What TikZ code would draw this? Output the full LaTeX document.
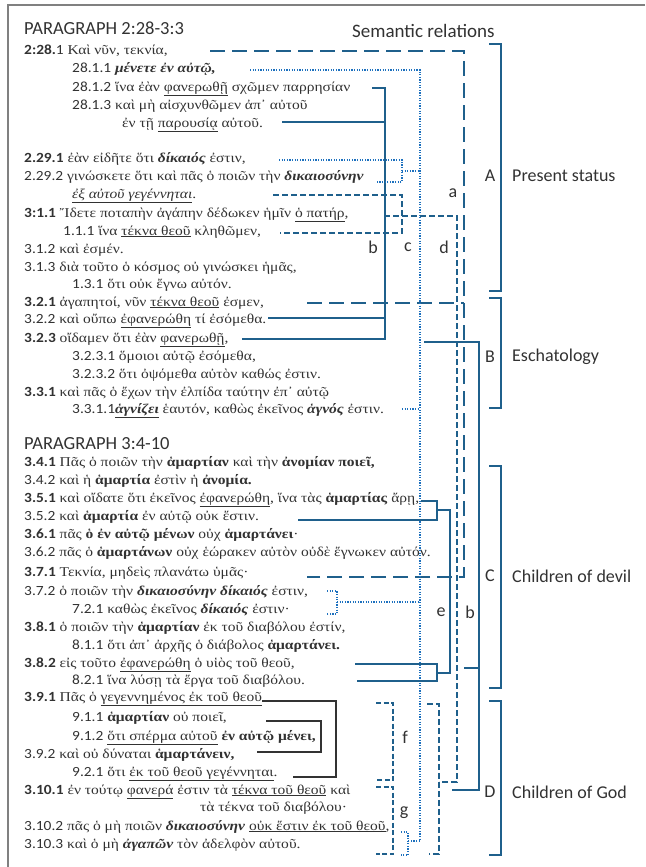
\documentclass[tikz,border=0pt]{standalone}
\usepackage{fontspec}
\setmainfont{Liberation Serif}[FakeStretch=1.15]
\newfontfamily\numfont{Carlito}[FakeStretch=1.1]
\newfontfamily\headfont{Carlito}
\usetikzlibrary{positioning}
\definecolor{relblue}{RGB}{31,96,140}
\definecolor{dotblue}{RGB}{28,112,190}
\definecolor{txtgray}{RGB}{50,50,50}
\newcommand{\nb}[1]{{\numfont\fontsize{14}{16}\selectfont\bfseries #1}}
\newcommand{\nr}[1]{{\numfont\fontsize{14}{16}\selectfont #1}}
\newcommand{\uln}[1]{\underline{#1}}
\newcommand{\emb}[1]{\textbf{\textit{#1}}}
\tikzset{
  verse/.style={anchor=base west,inner sep=0pt,font=\fontsize{13.5}{15}\selectfont,text=txtgray},
  head/.style={anchor=west,inner sep=0pt,font=\headfont\fontsize{18.5}{21}\selectfont,text=txtgray},
  relname/.style={inner sep=0pt,font=\headfont\fontsize{18}{20}\selectfont,text=txtgray},
  theme/.style={anchor=west,inner sep=0pt,font=\headfont\fontsize{18}{20}\selectfont,text=txtgray},
  solidrel/.style={draw=relblue,line width=1.6pt},
  longdash/.style={draw=relblue,line width=1.6pt,dash pattern=on 15pt off 7pt},
  middash/.style={draw=relblue,line width=1.6pt,dash pattern=on 6pt off 3pt},
  shortdash/.style={draw=relblue,line width=1.6pt,dash pattern=on 5pt off 2.5pt},
  dotrel/.style={draw=dotblue,line width=1.4pt,dash pattern=on 1.2pt off 1.4pt},
  boxline/.style={draw=black!80,line width=1.6pt},
  sectbr/.style={draw=relblue,line width=1.8pt},
  pageframe/.style={draw=black!50,line width=1.5pt},
}

\begin{document}
\begin{tikzpicture}[x=1pt,y=-1pt]
  \useasboundingbox (0,0) rectangle (645,867);
  \draw[pageframe] (8,867) -- (8,5) -- (645,5);

  % paragraph 2:28-3:3
  \node[head] (h1) at (24,28) {PARAGRAPH 2:28-3:3};
  \node[head,font=\headfont\fontsize{19}{21}\selectfont] (sem) at (352,31) {Semantic relations};
  \node[verse] (v01) at (24,55) {\nb{2:28.}\nr{1} Καὶ νῦν, τεκνία,};
  \node[verse] (v02) at (72,73) {\nr{28.1.1} \emb{μένετε ἐν αὐτῷ,}};
  \node[verse] (v03) at (72,91) {\nr{28.1.2} ἵνα ἐὰν \uln{φανερωθῇ} σχῶμεν παρρησίαν};
  \node[verse] (v04) at (72,109) {\nr{28.1.3} καὶ μὴ αἰσχυνθῶμεν ἀπ᾽ αὐτοῦ};
  \node[verse] (v05) at (122,127) {ἐν τῇ \uln{παρουσίᾳ} αὐτοῦ.};
  \node[verse] (v06) at (24,162) {\nb{2.29.1} ἐὰν εἰδῆτε ὅτι \emb{δίκαιός} ἐστιν,};
  \node[verse] (v07) at (24,180) {\nr{2.29.2} γινώσκετε ὅτι καὶ πᾶς ὁ ποιῶν τὴν \emb{δικαιοσύνην}};
  \node[verse] (v08) at (72,198) {\uln{\textit{ἐξ αὐτοῦ γεγέννηται}}.};
  \node[verse] (v09) at (24,217) {\nb{3:1.1} Ἴδετε ποταπὴν ἀγάπην δέδωκεν ἡμῖν \uln{ὁ πατήρ},};
  \node[verse] (v10) at (63,235) {\nr{1.1.1} ἵνα \uln{τέκνα θεοῦ} κληθῶμεν,};
  \node[verse] (v11) at (24,253) {\nr{3.1.2} καὶ ἐσμέν.};
  \node[verse] (v12) at (24,271) {\nr{3.1.3} διὰ τοῦτο ὁ κόσμος οὐ γινώσκει ἡμᾶς,};
  \node[verse] (v13) at (72,288) {\nr{1.3.1} ὅτι οὐκ ἔγνω αὐτόν.};
  \node[verse] (v14) at (24,306) {\nb{3.2.1} ἀγαπητοί, νῦν \uln{τέκνα θεοῦ} ἐσμεν,};
  \node[verse] (v15) at (24,323) {\nr{3.2.2} καὶ οὔπω \uln{ἐφανερώθη} τί ἐσόμεθα.};
  \node[verse] (v16) at (24,342) {\nb{3.2.3} οἴδαμεν ὅτι ἐὰν \uln{φανερωθῇ},};
  \node[verse] (v17) at (72,360) {\nr{3.2.3.1} ὅμοιοι αὐτῷ ἐσόμεθα,};
  \node[verse] (v18) at (72,378) {\nr{3.2.3.2} ὅτι ὀψόμεθα αὐτὸν καθώς ἐστιν.};
  \node[verse] (v19) at (24,396) {\nb{3.3.1} καὶ πᾶς ὁ ἔχων τὴν ἐλπίδα ταύτην ἐπ᾽ αὐτῷ};
  \node[verse] (v20) at (72,413) {\nr{3.3.1.1}\uln{\emb{ἁγνίζει}} ἑαυτόν, καθὼς ἐκεῖνος \emb{ἁγνός} ἐστιν.};

  % paragraph 3:4-10
  \node[head] (h2) at (24,444) {PARAGRAPH 3:4-10};
  \node[verse] (v21) at (24,466) {\nb{3.4.1} Πᾶς ὁ ποιῶν τὴν \textbf{ἁμαρτίαν} καὶ τὴν \textbf{ἀνομίαν ποιεῖ,}};
  \node[verse] (v22) at (24,484) {\nr{3.4.2} καὶ ἡ \textbf{ἁμαρτία} ἐστὶν ἡ \textbf{ἀνομία.}};
  \node[verse] (v23) at (24,502) {\nb{3.5.1} καὶ οἴδατε ὅτι ἐκεῖνος \uln{ἐφανερώθη}, ἵνα τὰς \textbf{ἁμαρτίας} ἄρῃ,};
  \node[verse] (v24) at (24,520) {\nr{3.5.2} καὶ \textbf{ἁμαρτία} ἐν αὐτῷ οὐκ ἔστιν.};
  \node[verse] (v25) at (24,538) {\nb{3.6.1} πᾶς \textbf{ὁ ἐν αὐτῷ μένων} οὐχ \textbf{ἁμαρτάνει}·};
  \node[verse] (v26) at (24,556) {\nr{3.6.2} πᾶς ὁ \textbf{ἁμαρτάνων} οὐχ ἑώρακεν αὐτὸν οὐδὲ ἔγνωκεν αὐτόν.};
  \node[verse] (v27) at (24,576) {\nb{3.7.1} Τεκνία, μηδεὶς πλανάτω ὑμᾶς·};
  \node[verse] (v28) at (24,595) {\nr{3.7.2} ὁ ποιῶν τὴν \emb{δικαιοσύνην δίκαιός} ἐστιν,};
  \node[verse] (v29) at (72,613) {\nr{7.2.1} καθὼς ἐκεῖνος \emb{δίκαιός} ἐστιν·};
  \node[verse] (v30) at (24,631) {\nb{3.8.1} ὁ ποιῶν τὴν \textbf{ἁμαρτίαν} ἐκ τοῦ διαβόλου ἐστίν,};
  \node[verse] (v31) at (72,649) {\nr{8.1.1} ὅτι ἀπ᾽ ἀρχῆς ὁ διάβολος \textbf{ἁμαρτάνει.}};
  \node[verse] (v32) at (24,667) {\nb{3.8.2} εἰς τοῦτο \uln{ἐφανερώθη} ὁ υἱὸς τοῦ θεοῦ,};
  \node[verse] (v33) at (72,684) {\nr{8.2.1} ἵνα λύσῃ τὰ ἔργα τοῦ διαβόλου.};
  \node[verse] (v34) at (24,701) {\nb{3.9.1} Πᾶς ὁ \uln{γεγεννημένος ἐκ τοῦ θεοῦ}};
  \node[verse] (v35) at (72,721) {\nr{9.1.1} \textbf{ἁμαρτίαν} οὐ ποιεῖ,};
  \node[verse] (v36) at (72,740) {\nr{9.1.2} \uln{ὅτι σπέρμα αὐτοῦ} \textbf{ἐν αὐτῷ μένει,}};
  \node[verse] (v37) at (24,758) {\nr{3.9.2} καὶ οὐ δύναται \textbf{ἁμαρτάνειν,}};
  \node[verse] (v38) at (72,776) {\nr{9.2.1} ὅτι \uln{ἐκ τοῦ θεοῦ γεγέννηται}.};
  \node[verse] (v39) at (24,794) {\nb{3.10.1} ἐν τούτῳ \uln{φανερά} ἐστιν τὰ \uln{τέκνα τοῦ θεοῦ} καὶ};
  \node[verse] (v40) at (200,811) {τὰ τέκνα τοῦ διαβόλου·};
  \node[verse] (v41) at (24,830) {\nr{3.10.2} πᾶς ὁ μὴ ποιῶν \emb{δικαιοσύνην} \uln{οὐκ ἔστιν ἐκ τοῦ θεοῦ},};
  \node[verse] (v42) at (24,848) {\nr{3.10.3} καὶ ὁ μὴ \emb{ἀγαπῶν} τὸν ἀδελφὸν αὐτοῦ.};

  % relation a
  \coordinate (a1) at (210,51);
  \coordinate (a2) at (307,303);
  \coordinate (a3) at (307,577);
  \coordinate (ax) at (464,0);
  \draw[longdash] (a1) -- (a1 -| ax) -- (a3 -| ax) -- (a3);
  \draw[longdash] (a2) -- (a2 -| ax);
  \node[relname] (la) at (453,193) {a};

  % relation b
  \coordinate (b1) at (372,88);
  \coordinate (b2) at (282,122);
  \coordinate (b3) at (268,318);
  \coordinate (b4) at (242,339);
  \coordinate (bx) at (385,0);
  \draw[solidrel] (b1) -- (b1 -| bx) -- (b4 -| bx) -- (b4);
  \draw[solidrel] (b2) -- (b2 -| bx);
  \draw[solidrel] (b3) -- (b3 -| bx);
  \node[relname] (lb) at (373,247) {b};
  \coordinate (b5) at (424,342);
  \coordinate (b6) at (464,668);
  \coordinate (b7) at (452,790);
  \coordinate (by) at (479,0);
  \draw[solidrel] (b5) -- (b5 -| by) -- (b7 -| by) -- (b7);
  \draw[solidrel] (b6) -- (b6 -| by);
  \node[relname] (lb2) at (470,612) {b};

  % relation c
  \coordinate (c1) at (250,70);
  \coordinate (cx) at (420,0);
  \coordinate (c2t) at (279,160);
  \coordinate (c2b) at (377,182);
  \coordinate (c2m) at (402,171);
  \coordinate (c3) at (402,409);
  \coordinate (c4t) at (327,591);
  \coordinate (c4b) at (327,614);
  \coordinate (c4m) at (337,602);
  \coordinate (c5t) at (401,832);
  \coordinate (c5b) at (401,855);
  \coordinate (c5m) at (408,841);
  \draw[dotrel] (c1) -- (c1 -| cx) -- (c5m -| cx) -- (c5m);
  \draw[dotrel] (c2t) -- (c2t -| c2m) -- (c2b -| c2m) -- (c2b);
  \draw[dotrel] (c2m) -- (c2m -| cx);
  \draw[dotrel] (c3) -- (c3 -| cx);
  \draw[dotrel] (c4t) -- (c4t -| c4m) -- (c4b -| c4m) -- (c4b);
  \draw[dotrel] (c4m) -- (c4m -| cx);
  \draw[dotrel] (c5t) -- (c5t -| c5m) -- (c5b -| c5m) -- (c5b);
  \node[relname] (lc) at (408,247) {c};

  % relation d
  \coordinate (d1t) at (273,195);
  \coordinate (d1b) at (280,233);
  \coordinate (d1x) at (402,0);
  \coordinate (d2) at (384,216);
  \coordinate (dx) at (457,0);
  \coordinate (d3t) at (427,704);
  \coordinate (d3b) at (429,854);
  \coordinate (d3m) at (439,782);
  \draw[middash] (d1t) -- (d1t -| d1x) -- (d1b -| d1x) -- (d1b);
  \draw[middash] (d2) -- (d2 -| dx) -- (d3m -| dx) -- (d3m);
  \draw[middash] (d3t) -- (d3t -| d3m) -- (d3b -| d3m) -- (d3b);
  \node[relname] (ld) at (444,247) {d};

  % relation e
  \coordinate (e1t) at (421,501);
  \coordinate (e1b) at (298,520);
  \coordinate (e1m) at (437,510);
  \coordinate (e2t) at (355,664);
  \coordinate (e2b) at (357,681);
  \coordinate (e2m) at (437,673);
  \coordinate (ex) at (450,0);
  \draw[solidrel] (e1t) -- (e1t -| e1m) -- (e1b -| e1m) -- (e1b);
  \draw[solidrel] (e2t) -- (e2t -| e2m) -- (e2b -| e2m) -- (e2b);
  \draw[solidrel] (e1m) -- (e1m -| ex) -- (e2m -| ex) -- (e2m);
  \node[relname] (le) at (441,612) {e};

  % relations f, g
  \coordinate (f1) at (376,703);
  \coordinate (f2) at (376,780);
  \coordinate (g1) at (376,787);
  \coordinate (g2) at (376,854);
  \coordinate (fgx) at (393,0);
  \draw[shortdash] (f1) -- (f1 -| fgx) -- (f2 -| fgx) -- (f2);
  \draw[shortdash] (g1) -- (g1 -| fgx) -- (g2 -| fgx) -- (g2);
  \node[relname] (lf) at (405,737) {f};
  \node[relname] (lg) at (404,813) {g};

  % 3:9 boxes
  \draw[boxline] (262,701) -- (336,701) -- (336,777) -- (293,777);
  \draw[boxline] (266,721) -- (321,721) -- (321,752) -- (257,752);

  % sections
  \foreach \t/\b/\m/\l/\n in {44/291/176/A/Present status,298/408/357/B/Eschatology,
      466/688/576/C/Children of devil,701/855/792/D/Children of God}{
    \draw[sectbr] (489,\t) -- (501,\t) -- (501,\b) -- (489,\b);
    \node[relname] (s\l) at (490,\m) {\l};
    \node[theme] (t\l) at (512,\m) {\n};
  }
\end{tikzpicture}
\end{document}
